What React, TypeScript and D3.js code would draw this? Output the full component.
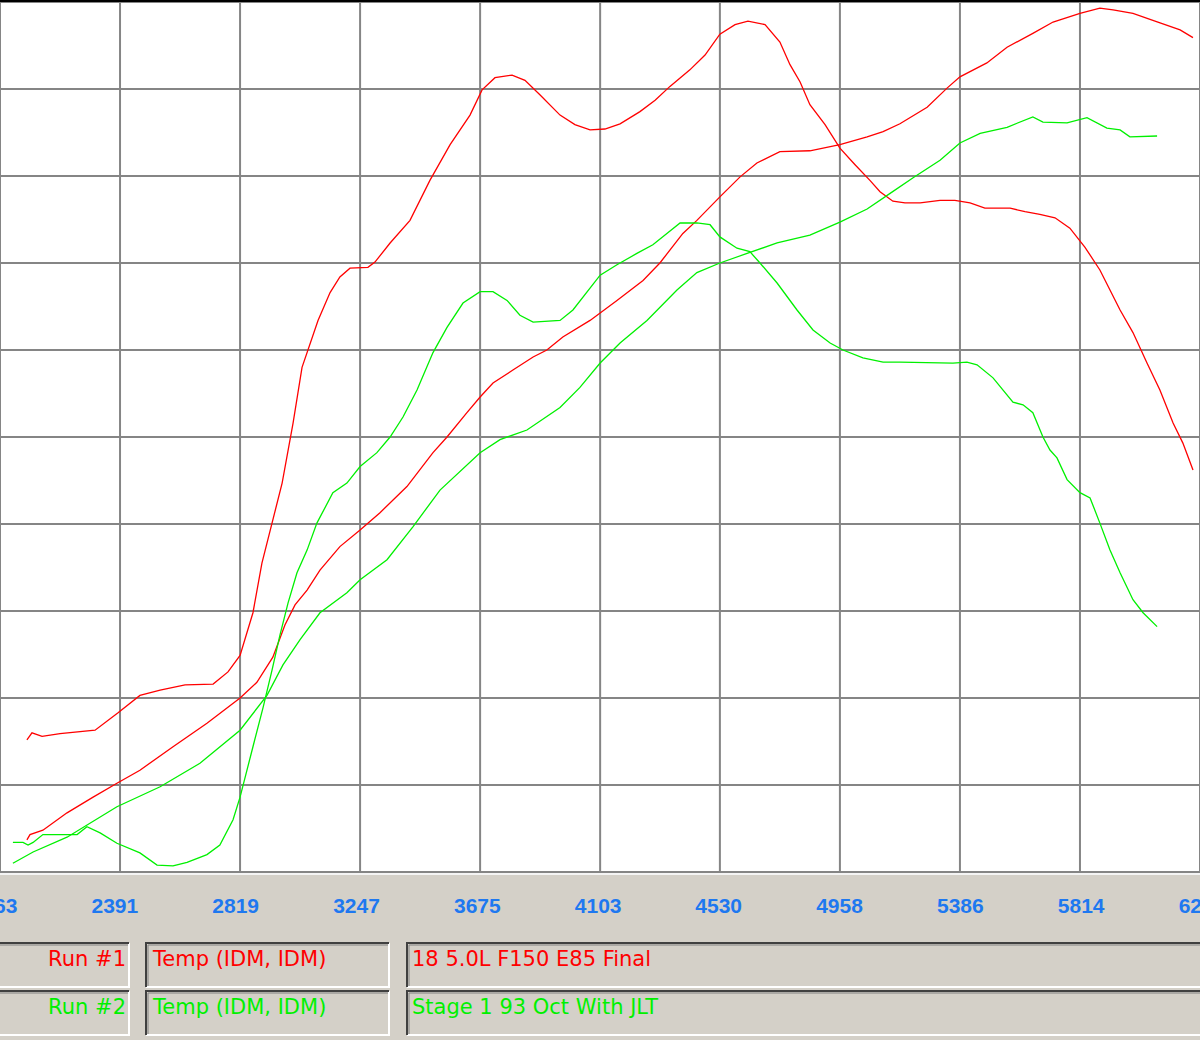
import * as d3 from "d3";

const WIDTH = 1200;
const HEIGHT = 1040;
const PLOT_TOP = 2;
const PLOT_BOTTOM = 872;
const PANEL = "#d4d0c8";

// x axis (rpm) and the unlabeled temperature grid
const rpmTicks = [1963, 2391, 2819, 3247, 3675, 4103, 4530, 4958, 5386, 5814, 6242];
const tempTicks = [100, 110, 120, 130, 140, 150, 160, 170, 180, 190, 200];

// Run #1, first trace (early jump, hump at 4630)
const run1RpmA = [2059, 2077, 2113, 2177, 2302, 2384, 2462, 2534, 2623, 2723, 2776, 2819, 2865, 2897, 2933, 2969, 3008, 3040, 3097, 3140, 3175, 3211, 3275, 3300, 3354, 3425, 3496, 3568, 3639, 3682, 3728, 3789, 3835, 3889, 3960, 4013, 4067, 4120, 4174, 4245, 4299, 4352, 4423, 4477, 4530, 4584, 4630, 4691, 4744, 4780, 4816, 4851, 4905, 4958, 5012, 5065, 5101, 5147, 5190, 5244, 5315, 5368, 5422, 5475, 5565, 5618, 5671, 5725, 5778, 5832, 5885, 5957, 6003, 6053, 6099, 6146, 6181, 6217];
const run1TempA = [115.2, 116.0, 115.6, 115.9, 116.3, 118.3, 120.3, 120.9, 121.5, 121.6, 123.0, 124.9, 129.8, 135.5, 140.1, 144.7, 151.6, 158.0, 163.4, 166.6, 168.4, 169.4, 169.5, 170.1, 172.3, 174.9, 179.5, 183.6, 187.0, 189.9, 191.3, 191.6, 191.0, 189.3, 187.0, 185.9, 185.3, 185.4, 186.0, 187.4, 188.7, 190.3, 192.2, 193.9, 196.3, 197.4, 197.8, 197.4, 195.4, 192.8, 190.8, 188.2, 185.9, 183.2, 181.3, 179.5, 178.2, 177.1, 176.9, 176.9, 177.2, 177.2, 176.9, 176.3, 176.3, 175.9, 175.6, 175.2, 174.0, 171.8, 169.2, 164.6, 162.0, 158.5, 155.4, 151.6, 149.3, 146.2];

// Run #1, second trace (steady climb)
const run1RpmB = [2059, 2070, 2116, 2202, 2295, 2380, 2462, 2580, 2701, 2819, 2879, 2936, 2979, 3015, 3058, 3104, 3175, 3247, 3318, 3414, 3507, 3557, 3628, 3675, 3721, 3792, 3864, 3913, 3970, 4067, 4163, 4256, 4316, 4398, 4448, 4530, 4602, 4662, 4744, 4851, 4958, 5055, 5112, 5172, 5269, 5340, 5386, 5482, 5554, 5646, 5718, 5814, 5885, 5932, 6003, 6074, 6171, 6217];
const run1TempB = [103.7, 104.3, 104.8, 106.8, 108.6, 110.2, 111.7, 114.4, 117.1, 120.0, 121.8, 124.7, 128.4, 130.7, 132.4, 134.7, 137.4, 139.3, 141.3, 144.3, 148.2, 150.0, 152.8, 154.6, 156.2, 157.7, 159.2, 160.0, 161.5, 163.4, 165.7, 168.0, 170.0, 173.4, 174.9, 177.6, 179.9, 181.5, 182.8, 182.9, 183.6, 184.5, 185.1, 186.0, 187.9, 190.1, 191.4, 193.0, 194.8, 196.4, 197.7, 198.7, 199.3, 199.1, 198.7, 197.9, 196.8, 195.9];

// Run #2, first trace (dip, then hump at 4400)
const run2RpmA = [2009, 2045, 2063, 2081, 2116, 2238, 2273, 2320, 2380, 2462, 2523, 2580, 2630, 2701, 2747, 2794, 2819, 2865, 2901, 2933, 2961, 2990, 3022, 3058, 3093, 3150, 3200, 3247, 3307, 3354, 3400, 3450, 3507, 3557, 3614, 3675, 3721, 3771, 3817, 3864, 3960, 4006, 4103, 4163, 4234, 4291, 4341, 4388, 4448, 4495, 4530, 4591, 4637, 4673, 4734, 4805, 4862, 4923, 4969, 5040, 5112, 5172, 5361, 5411, 5447, 5504, 5575, 5611, 5646, 5682, 5707, 5732, 5768, 5814, 5850, 5885, 5921, 5957, 6003, 6039, 6089];
const run2TempA = [103.4, 103.4, 103.1, 103.4, 104.3, 104.3, 105.2, 104.5, 103.3, 102.2, 100.8, 100.7, 101.1, 102.0, 103.1, 106.0, 108.6, 114.4, 118.9, 123.2, 127.2, 130.9, 134.4, 137.0, 140.1, 143.6, 144.7, 146.6, 148.2, 150.0, 152.3, 155.4, 159.7, 162.6, 165.4, 166.7, 166.7, 165.7, 164.0, 163.2, 163.4, 164.6, 168.6, 169.8, 171.1, 172.1, 173.4, 174.6, 174.6, 174.4, 173.0, 171.7, 171.3, 170.0, 167.7, 164.6, 162.3, 160.8, 160.0, 159.1, 158.6, 158.6, 158.5, 158.6, 158.3, 156.8, 154.0, 153.7, 152.8, 150.0, 148.5, 147.6, 145.1, 143.6, 143.0, 140.1, 137.0, 134.4, 131.3, 129.8, 128.2];

// Run #2, second trace (steady climb)
const run2RpmB = [2009, 2081, 2202, 2380, 2534, 2676, 2819, 2915, 2972, 3033, 3104, 3200, 3247, 3343, 3436, 3532, 3675, 3746, 3842, 3960, 4031, 4103, 4174, 4270, 4377, 4448, 4530, 4627, 4734, 4851, 4958, 5055, 5137, 5219, 5315, 5386, 5458, 5554, 5646, 5682, 5768, 5839, 5910, 5957, 5992, 6089];
const run2TempB = [101.0, 102.3, 104.0, 107.5, 109.8, 112.5, 116.3, 120.3, 123.8, 126.7, 129.8, 132.1, 133.6, 135.9, 139.7, 143.9, 148.2, 149.7, 150.8, 153.4, 155.7, 158.5, 160.8, 163.4, 166.9, 168.9, 170.0, 171.1, 172.3, 173.2, 174.7, 176.2, 178.0, 179.8, 181.8, 183.8, 184.9, 185.6, 186.8, 186.2, 186.1, 186.7, 185.5, 185.3, 184.5, 184.6];

const legendRuns = ["Run #1", "Run #2"];
const legendChannels = ["Temp (IDM, IDM)", "Temp (IDM, IDM)"];
const legendNames = ["18 5.0L F150 E85 Final", "Stage 1 93 Oct With JLT"];
const runColors = ["#ff0000", "#00f000"];

type Pt = [number, number];
const zip = (xs: number[], ys: number[]): Pt[] => xs.map((x, i) => [x, ys[i]]);

const series = [
  { color: runColors[0], pts: zip(run1RpmA, run1TempA) },
  { color: runColors[0], pts: zip(run1RpmB, run1TempB) },
  { color: runColors[1], pts: zip(run2RpmA, run2TempA) },
  { color: runColors[1], pts: zip(run2RpmB, run2TempB) },
];

const ROW_TOP = [943, 991];
const ROW_H = 44;
const COLS = [
  { x: -10, w: 139 },
  { x: 146, w: 243 },
  { x: 407, w: 810 },
];

const SunkenBox = ({ x, y, w, h }: { x: number; y: number; w: number; h: number }) => (
  <g>
    <rect x={x} y={y} width={w} height={h} fill={PANEL} />
    <path d={`M${x + w},${y} V${y + h} H${x}`} stroke="#ffffff" strokeWidth={2} fill="none" />
    <path d={`M${x},${y + h} V${y} H${x + w}`} stroke="#404040" strokeWidth={2} fill="none" />
    <path d={`M${x + 2},${y + h - 1} V${y + 2} H${x + w - 1}`} stroke="#808080" strokeWidth={1} fill="none" />
  </g>
);

const App = () => {
  const xScale = d3.scaleLinear().domain([rpmTicks[0], rpmTicks[rpmTicks.length - 1]]).range([0, WIDTH]);
  const yScale = d3.scaleLinear().domain([tempTicks[0], tempTicks[tempTicks.length - 1]]).range([PLOT_BOTTOM, PLOT_TOP]);
  // the labels sit a touch off the grid lines, spread slightly wider
  const labelScale = d3.scaleLinear().domain(xScale.domain()).range([-6, WIDTH + 2]);

  const line = d3
    .line<Pt>()
    .x((d) => xScale(d[0]))
    .y((d) => yScale(d[1]))
    .curve(d3.curveLinear);

  return (
    <div style={{ position: "fixed", left: 0, top: 0 }}>
      <svg width={WIDTH} height={HEIGHT} style={{ display: "block" }}>
        <rect x={0} y={0} width={WIDTH} height={HEIGHT} fill={PANEL} />
        <rect x={0} y={PLOT_TOP} width={WIDTH} height={PLOT_BOTTOM - PLOT_TOP} fill="#ffffff" />

        {/* grid */}
        {rpmTicks.map((t) => (
          <line key={"v" + t} x1={xScale(t)} x2={xScale(t)} y1={PLOT_TOP} y2={PLOT_BOTTOM} stroke="#858585" strokeWidth={2} />
        ))}
        {tempTicks.map((t) => (
          <line key={"h" + t} x1={0} x2={WIDTH} y1={yScale(t)} y2={yScale(t)} stroke="#858585" strokeWidth={2} />
        ))}
        <rect x={0} y={0} width={WIDTH} height={2} fill="#000000" />

        {/* traces */}
        {series.map((s, i) => (
          <path key={i} d={line(s.pts) as string} fill="none" stroke={s.color} strokeWidth={1.3} />
        ))}

        {/* panel edge */}
        <line x1={0} x2={WIDTH} y1={PLOT_BOTTOM + 2} y2={PLOT_BOTTOM + 2} stroke="#f4f4f4" strokeWidth={2} />

        {/* rpm labels */}
        {rpmTicks.map((t) => (
          <text
            key={"l" + t}
            x={labelScale(t)}
            y={913}
            textAnchor="middle"
            fontFamily="'Liberation Sans', Arial, sans-serif"
            fontWeight="bold"
            fontSize={21}
            fill="#1e78f0"
          >
            {t}
          </text>
        ))}

        {/* legend */}
        {ROW_TOP.map((top, r) => (
          <g key={"row" + r}>
            {COLS.map((c, ci) => (
              <SunkenBox key={ci} x={c.x} y={top} w={c.w} h={ROW_H} />
            ))}
            <text x={126} y={top + 23} textAnchor="end" fontFamily="'DejaVu Sans', sans-serif" fontSize={21} fill={runColors[r]}>
              {legendRuns[r]}
            </text>
            <text x={153} y={top + 23} fontFamily="'DejaVu Sans', sans-serif" fontSize={21} fill={runColors[r]}>
              {legendChannels[r]}
            </text>
            <text x={412} y={top + 23} fontFamily="'DejaVu Sans', sans-serif" fontSize={21} fill={runColors[r]}>
              {legendNames[r]}
            </text>
          </g>
        ))}
      </svg>
    </div>
  );
};

export default App;
